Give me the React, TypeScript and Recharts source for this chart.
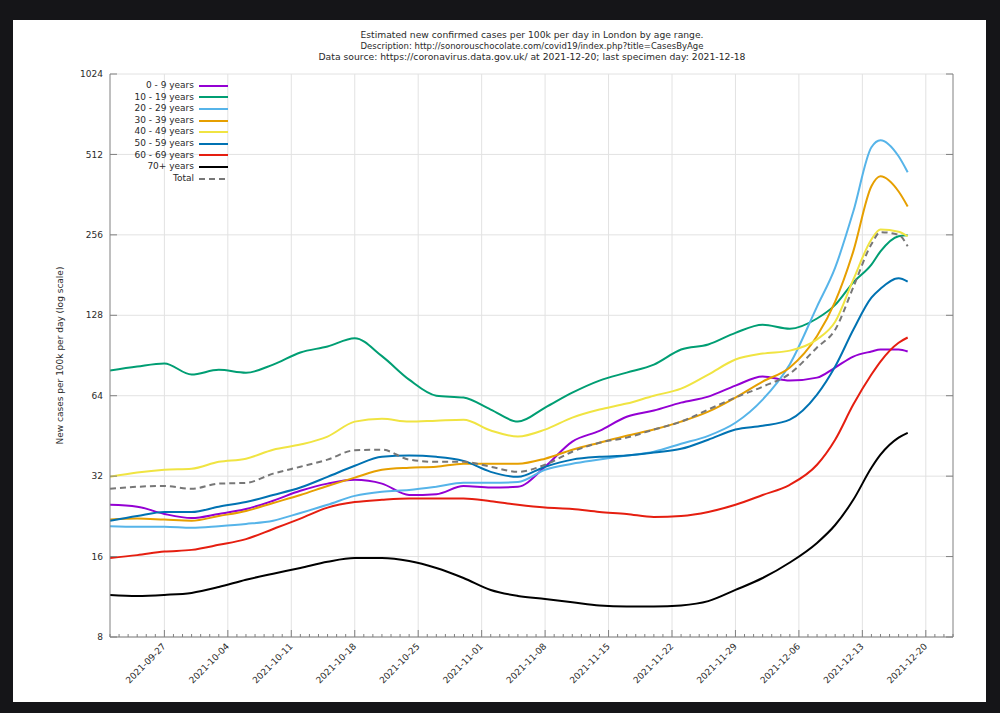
import React from "react";
import {
  LineChart,
  Line,
  XAxis,
  YAxis,
  CartesianGrid,
  ReferenceLine,
  Legend,
  Label,
} from "recharts";

// sample days (cases per 100k per day, 7-day estimate)
const dates = [
  "2021-09-21", "2021-09-24", "2021-09-27", "2021-09-30", "2021-10-03", "2021-10-06",
  "2021-10-09", "2021-10-12", "2021-10-15", "2021-10-18", "2021-10-21", "2021-10-24",
  "2021-10-27", "2021-10-30", "2021-11-02", "2021-11-05", "2021-11-08", "2021-11-11",
  "2021-11-14", "2021-11-17", "2021-11-20", "2021-11-23", "2021-11-26", "2021-11-29",
  "2021-12-02", "2021-12-05", "2021-12-08", "2021-12-10", "2021-12-12", "2021-12-14",
  "2021-12-15", "2021-12-17", "2021-12-18",
];

const age0to9 = [25, 24.6, 23.1, 22.3, 23.1, 24.1, 25.9, 28.2, 30, 31, 30, 27.2, 27.4, 29.4, 29, 29.2, 34.7, 43.1, 47.3, 53.4, 56.3, 60.3, 63.5, 69.8, 75.5, 72.9, 74.8, 81.6, 89.7, 93.7, 95.3, 95.3, 93.7];
const age10to19 = [79.5, 82.3, 84.5, 76.8, 80, 78, 83.7, 92.9, 97.8, 105, 90, 73.5, 64, 63, 56.8, 51.2, 57.8, 65.7, 72.9, 78.1, 83.7, 95.3, 99.5, 110, 118, 114, 124.5, 140, 170, 198, 222, 253, 255];
const age20to29 = [20.8, 20.7, 20.7, 20.5, 20.8, 21.2, 21.8, 23.3, 25, 27, 28, 28.4, 29.2, 30.2, 30.2, 30.4, 33.8, 35.6, 36.9, 38.2, 39.5, 42.3, 45.3, 50.7, 61.9, 84, 138, 193, 313, 545, 579, 504, 439];
const age30to39 = [22, 22.2, 22, 21.8, 22.7, 23.7, 25.4, 27.2, 29.4, 31.6, 33.8, 34.4, 34.7, 35.6, 35.6, 35.6, 37.2, 40.2, 42.7, 45.3, 47.8, 51.2, 55.8, 63, 72.3, 81.6, 107, 144, 222, 389, 424, 372, 327];
const age40to49 = [31.8, 33, 33.8, 34.1, 36.2, 37.2, 40.2, 42, 45, 51.2, 52.5, 51.2, 51.6, 52, 47.4, 45, 47.8, 53, 56.8, 59.8, 64, 68, 76.8, 87.4, 92, 94.4, 104, 121, 174, 246, 268, 263, 253];
const age50to59 = [21.8, 22.7, 23.5, 23.5, 24.6, 25.6, 27.2, 29, 31.8, 35, 37.8, 38.2, 37.8, 36.5, 33.2, 31.8, 34.7, 36.9, 37.8, 38.2, 39.2, 40.5, 43.8, 47.8, 49.4, 52.1, 64.6, 82.3, 113, 149, 161, 176, 171];
const age60to69 = [15.8, 16.2, 16.7, 16.95, 17.7, 18.6, 20.3, 22.2, 24.4, 25.6, 26.1, 26.4, 26.4, 26.4, 25.8, 25, 24.4, 24.1, 23.5, 23.1, 22.5, 22.7, 23.5, 25, 27.2, 29.7, 35.3, 43.8, 59.3, 76.8, 85.9, 101, 105.7];
const age70plus = [11.5, 11.4, 11.5, 11.7, 12.3, 13.1, 13.8, 14.5, 15.3, 15.8, 15.8, 15.4, 14.5, 13.3, 12, 11.4, 11.1, 10.8, 10.5, 10.4, 10.4, 10.5, 10.9, 12, 13.3, 15.2, 18, 21, 26.1, 34.4, 38.5, 44.6, 46.5];
const totalCases = [28.7, 29.2, 29.4, 28.7, 30, 30.2, 32.7, 34.7, 36.9, 40, 40.2, 36.9, 36.2, 36.2, 34.7, 33.2, 35.3, 39.5, 42.7, 44.6, 47.8, 51.2, 56.8, 63, 69.2, 77.4, 97, 113, 163, 236, 262, 256, 232];

const yTicks = [8, 16, 32, 64, 128, 256, 512, 1024];
const weekLabels = [
  "2021-09-27", "2021-10-04", "2021-10-11", "2021-10-18", "2021-10-25", "2021-11-01",
  "2021-11-08", "2021-11-15", "2021-11-22", "2021-11-29", "2021-12-06", "2021-12-13",
  "2021-12-20",
];
const axisStart = "2021-09-21";
const axisEnd = "2021-12-23";

const titleLines = [
  "Estimated new confirmed cases per 100k per day in London by age range.",
  "Description: http://sonorouschocolate.com/covid19/index.php?title=CasesByAge",
  "Data source: https://coronavirus.data.gov.uk/ at 2021-12-20; last specimen day: 2021-12-18",
];
const titleWidths = [343, 343, 427];

const series = [
  { key: "a0", name: "0 - 9 years", color: "#9400d3", values: age0to9 },
  { key: "a10", name: "10 - 19 years", color: "#009e73", values: age10to19 },
  { key: "a20", name: "20 - 29 years", color: "#56b4e9", values: age20to29 },
  { key: "a30", name: "30 - 39 years", color: "#e69f00", values: age30to39 },
  { key: "a40", name: "40 - 49 years", color: "#f0e442", values: age40to49 },
  { key: "a50", name: "50 - 59 years", color: "#0072b2", values: age50to59 },
  { key: "a60", name: "60 - 69 years", color: "#e51e10", values: age60to69 },
  { key: "a70", name: "70+ years", color: "#000000", values: age70plus },
  { key: "total", name: "Total", color: "#777777", values: totalCases, dash: "6 4" },
];

const FONT = "'DejaVu Sans', sans-serif";
const FRAME = "#808080";
const GRID = "#e2e2e2";
const TEXT = "#2a2a2a";
const DAY = 86400000;

const dayOf = (d: string) => Math.round((Date.parse(d) - Date.parse(axisStart)) / DAY);
const labelOf = (i: number) =>
  new Date(Date.parse(axisStart) + i * DAY).toISOString().slice(0, 10);

const lastDay = dayOf(axisEnd);
const everyDay = Array.from({ length: lastDay + 1 }, (_, i) => i);
const weekDays = weekLabels.map(dayOf);

const chartData = dates.map((d, i) => {
  const row: Record<string, number> = { day: dayOf(d) };
  series.forEach((s) => {
    row[s.key] = s.values[i];
  });
  return row;
});

function BottomTick(props: any) {
  const { x, y, payload } = props;
  const major = weekDays.includes(payload.value);
  return (
    <g>
      <line x1={x} y1={y} x2={x} y2={y - (major ? 7 : 3)} stroke={FRAME} />
      {major && (
        <text
          transform={`translate(${x + 2},${y + 10}) rotate(-45)`}
          textAnchor="end"
          fontSize={9}
          fontFamily={FONT}
          fill={TEXT}
        >
          {labelOf(payload.value)}
        </text>
      )}
    </g>
  );
}

function TopTick(props: any) {
  const { x, y, payload } = props;
  const major = weekDays.includes(payload.value);
  return <line x1={x} y1={y} x2={x} y2={y + (major ? 7 : 3)} stroke={FRAME} />;
}

function LeftTick(props: any) {
  const { x, y, payload } = props;
  return (
    <g>
      <line x1={x} y1={y} x2={x + 7} y2={y} stroke={FRAME} />
      <text x={x - 7} y={y} dy="0.35em" textAnchor="end" fontSize={9} fontFamily={FONT} fill={TEXT}>
        {payload.value}
      </text>
    </g>
  );
}

function RightTick(props: any) {
  const { x, y } = props;
  return <line x1={x} y1={y} x2={x - 7} y2={y} stroke={FRAME} />;
}

function LegendBox() {
  return (
    <div style={{ fontFamily: FONT, fontSize: 9, color: TEXT }}>
      {series.map((s) => (
        <div
          key={s.key}
          style={{ height: 11.6, display: "flex", alignItems: "center", justifyContent: "flex-end" }}
        >
          <span style={{ lineHeight: "11.6px", whiteSpace: "nowrap" }}>{s.name}</span>
          <svg width={29} height={4} style={{ marginLeft: 5 }}>
            <line x1={0} y1={2} x2={29} y2={2} stroke={s.color} strokeWidth={2} strokeDasharray={s.dash} />
          </svg>
        </div>
      ))}
    </div>
  );
}

export default function App() {
  return (
    <div style={{ position: "absolute", left: 0, top: 0, width: 1000, height: 713, background: "#151518" }}>
      <div style={{ position: "absolute", left: 13, top: 20, width: 973, height: 682, background: "#ffffff" }} />
      <svg width={1000} height={713} style={{ position: "absolute", left: 0, top: 0 }}>
        {titleLines.map((t, i) => (
          <text
            key={i}
            x={532}
            y={38 + i * 11}
            textAnchor="middle"
            fontSize={9}
            fontFamily={FONT}
            fill={TEXT}
            textLength={titleWidths[i]}
            lengthAdjust="spacingAndGlyphs"
          >
            {t}
          </text>
        ))}
      </svg>
      <div style={{ position: "absolute", left: 0, top: 0 }}>
        <LineChart width={1000} height={713} data={chartData} margin={{ top: 74, right: 46, bottom: 16, left: 50 }}>
          <CartesianGrid vertical={false} stroke={GRID} />
          {weekDays.map((d) => (
            <ReferenceLine key={d} x={d} stroke={GRID} />
          ))}
          <XAxis
            dataKey="day"
            type="number"
            domain={[0, lastDay]}
            allowDataOverflow
            ticks={everyDay}
            interval={0}
            tickSize={0}
            tickMargin={0}
            tickLine={false}
            axisLine={{ stroke: FRAME }}
            height={60}
            tick={<BottomTick />}
          />
          <XAxis
            xAxisId="top"
            orientation="top"
            type="number"
            domain={[0, lastDay]}
            allowDataOverflow
            ticks={everyDay}
            interval={0}
            tickSize={0}
            tickMargin={0}
            tickLine={false}
            axisLine={{ stroke: FRAME }}
            height={0}
            tick={<TopTick />}
          />
          <YAxis
            scale="log"
            domain={[8, 1024]}
            allowDataOverflow
            ticks={yTicks}
            interval={0}
            width={60}
            tickSize={0}
            tickMargin={0}
            tickLine={false}
            axisLine={{ stroke: FRAME }}
            tick={<LeftTick />}
          >
            <Label
              value="New cases per 100k per day (log scale)"
              angle={-90}
              position="insideLeft"
              offset={10}
              style={{ textAnchor: "middle", fontSize: 9, fontFamily: FONT, fill: TEXT }}
            />
          </YAxis>
          <YAxis
            yAxisId="r"
            orientation="right"
            scale="log"
            domain={[8, 1024]}
            allowDataOverflow
            ticks={yTicks}
            interval={0}
            width={1}
            tickSize={0}
            tickMargin={0}
            tickLine={false}
            axisLine={{ stroke: FRAME }}
            tick={<RightTick />}
          />
          {series.map((s) => (
            <Line
              key={s.key}
              dataKey={s.key}
              name={s.name}
              type="monotone"
              stroke={s.color}
              strokeWidth={2}
              strokeDasharray={s.dash}
              dot={false}
              activeDot={false}
              isAnimationActive={false}
            />
          ))}
          <Legend
            layout="horizontal"
            verticalAlign="middle"
            align="center"
            wrapperStyle={{ left: 0, top: 80, width: 228 }}
            content={() => <LegendBox />}
          />
        </LineChart>
      </div>
    </div>
  );
}
